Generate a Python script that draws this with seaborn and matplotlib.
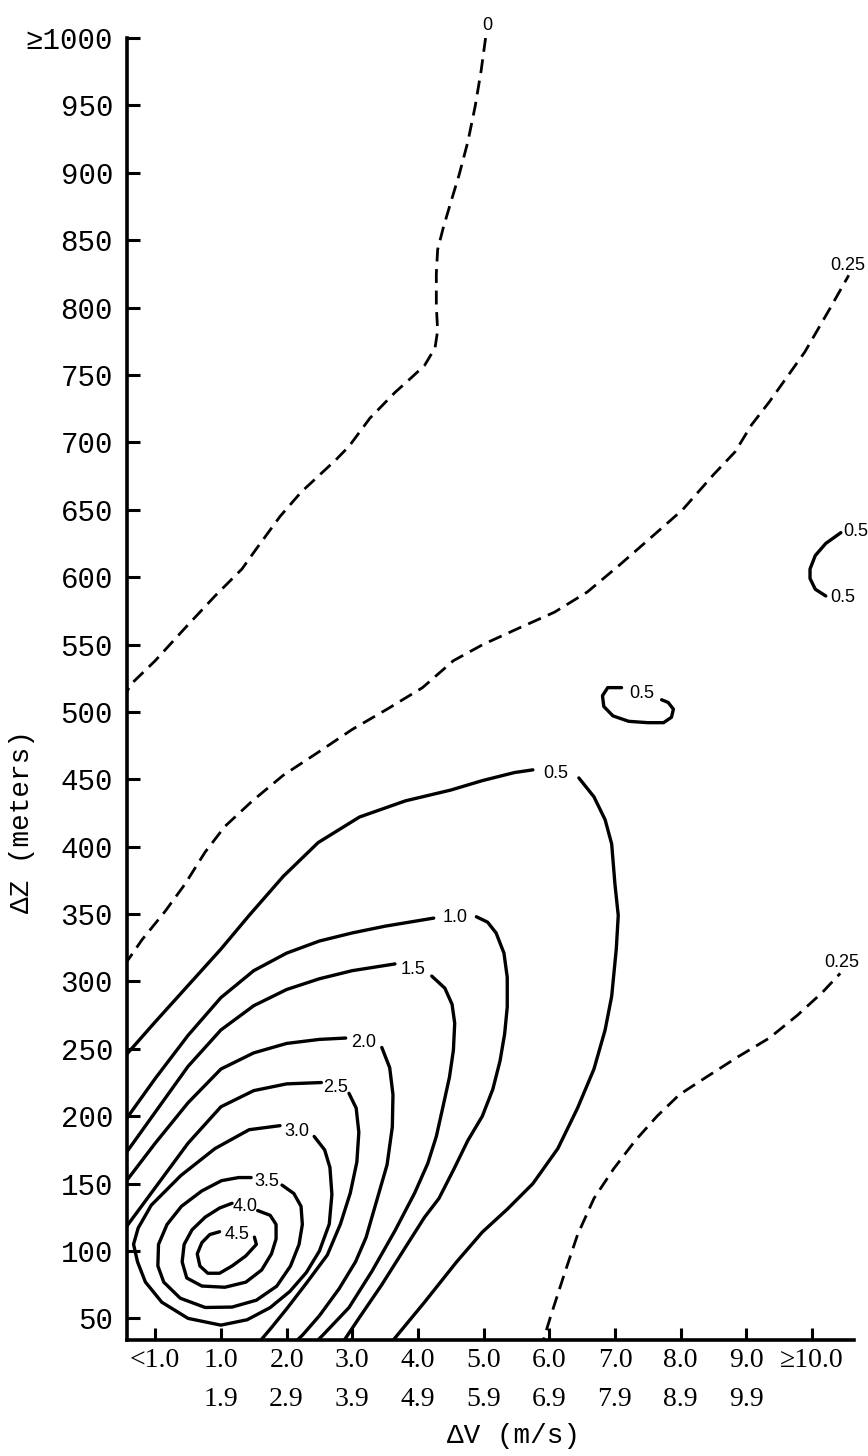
import matplotlib
matplotlib.use("Agg")
import matplotlib.pyplot as plt
import pandas as pd
import seaborn as sns

# ---------------- data ----------------
DV_BINS = ["<1.0", "1.0\n1.9", "2.0\n2.9", "3.0\n3.9", "4.0\n4.9", "5.0\n5.9",
           "6.0\n6.9", "7.0\n7.9", "8.0\n8.9", "9.0\n9.9", "\u226510.0"]
DZ_TICKS = list(range(50, 1001, 50))
DZ_LABELS = [str(v) for v in DZ_TICKS[:-1]] + ["\u22651000"]

# isolines: (ΔV bin index, ΔZ metres)
ISO_0 = [(5.03, 1000), (4.96, 975), (4.87, 949), (4.76, 923), (4.63, 899), (4.50, 878),
         (4.39, 860), (4.30, 843), (4.28, 825), (4.28, 801), (4.30, 783), (4.26, 770),
         (4.10, 757), (3.90, 748), (3.65, 737), (3.27, 718), (2.95, 697), (2.75, 687),
         (2.22, 663), (1.90, 645), (1.54, 621), (1.32, 606), (0.91, 586), (0.45, 562),
         (0.00, 538), (-0.36, 521), (-0.47, 512)]
ISO_025_UPPER = [(-0.47, 312), (-0.20, 331), (0.15, 352), (0.45, 372), (0.76, 396), (1.06, 415),
                 (1.48, 434), (1.95, 453), (2.48, 470), (3.00, 487), (3.53, 502), (4.07, 518),
                 (4.54, 538), (4.99, 550), (5.53, 562), (6.08, 574), (6.58, 589), (7.07, 609),
                 (7.54, 629), (8.03, 650), (8.50, 676), (8.83, 693), (9.08, 713), (9.35, 730),
                 (9.89, 767), (10.27, 799), (10.56, 824)]
ISO_025_LOWER = [(5.86, 26), (6.03, 53), (6.23, 83), (6.43, 112), (6.68, 139), (6.98, 161),
                 (7.31, 182), (7.64, 200), (7.98, 216), (8.39, 229), (8.87, 244), (9.35, 258),
                 (9.78, 275), (10.16, 292), (10.43, 306)]

ISO_05_A = [(-0.47, 244), (0.00, 270), (0.50, 297), (1.00, 324), (1.43, 349), (1.95, 378),
            (2.48, 403), (3.11, 422), (3.81, 434), (4.50, 442), (4.98, 449), (5.47, 455), (5.75, 457)]
ISO_05_B = [(6.45, 451), (6.68, 437), (6.85, 420), (6.95, 402), (7.00, 372), (7.05, 349),
            (7.02, 324), (6.95, 289), (6.85, 264), (6.68, 235), (6.43, 206), (6.13, 176),
            (5.75, 150), (5.36, 131), (4.98, 114), (4.59, 92), (4.10, 62), (3.49, 26)]
ISO_05_ISLE_A = [(7.71, 509), (7.81, 507), (7.89, 502), (7.86, 496), (7.74, 492), (7.50, 492),
                 (7.21, 493), (6.97, 497), (6.83, 504), (6.81, 512), (6.89, 518), (7.10, 518)]
ISO_05_ISLE_B = [(10.44, 633), (10.21, 625), (10.05, 616), (9.97, 606), (9.97, 599),
                 (10.05, 591), (10.21, 586)]

ISO_10_A = [(-0.47, 196), (0.00, 228), (0.50, 260), (1.00, 288), (1.50, 308), (2.00, 321),
            (2.50, 330), (3.00, 336), (3.50, 341), (4.24, 347)]
ISO_10_B = [(4.89, 348), (5.06, 344), (5.19, 336), (5.31, 321), (5.36, 303), (5.36, 281),
            (5.32, 261), (5.25, 241), (5.14, 220), (4.98, 200), (4.76, 182), (4.55, 161),
            (4.32, 139), (4.10, 125), (3.80, 102), (3.45, 75), (3.10, 50), (2.77, 26)]

ISO_15_A = [(-0.47, 171), (0.00, 203), (0.50, 237), (1.00, 264), (1.50, 282), (2.00, 294),
            (2.50, 302), (3.00, 308), (3.65, 313)]
ISO_15_B = [(4.21, 304), (4.41, 295), (4.52, 283), (4.56, 269), (4.54, 249), (4.48, 229),
            (4.39, 209), (4.28, 185), (4.15, 165), (3.95, 143), (3.65, 115), (3.30, 85),
            (2.95, 58), (2.60, 40), (2.32, 26)]

ISO_20_A = [(-0.47, 150), (0.00, 180), (0.50, 210), (1.00, 235), (1.50, 247), (2.00, 254),
            (2.50, 257), (2.90, 258)]
ISO_20_B = [(3.45, 251), (3.57, 236), (3.62, 216), (3.61, 192), (3.53, 164), (3.37, 137),
            (3.21, 110), (3.05, 92), (2.80, 72), (2.50, 52), (2.25, 38), (2.00, 26)]

ISO_25_A = [(-0.47, 116), (0.00, 147), (0.50, 180), (1.00, 207), (1.50, 219), (2.00, 224), (2.53, 225)]
ISO_25_B = [(2.95, 217), (3.06, 206), (3.10, 188), (3.07, 166), (2.97, 143), (2.82, 120),
            (2.62, 97), (2.30, 76), (2.00, 57), (1.75, 42), (1.47, 26)]

ISO_30_LOOP = [(2.42, 185), (2.58, 175), (2.66, 162), (2.69, 142), (2.65, 120), (2.50, 100),
               (2.30, 84), (2.05, 70), (1.75, 58), (1.40, 49), (1.00, 45), (0.50, 50),
               (0.10, 62), (-0.15, 77), (-0.27, 92), (-0.33, 105), (-0.26, 117), (-0.06, 134),
               (0.39, 156), (0.91, 176), (1.43, 190), (1.90, 193)]
ISO_35_LOOP = [(1.93, 148.9), (2.11, 142.7), (2.22, 133.2), (2.24, 119.7), (2.19, 104.9),
               (2.06, 88.9), (1.85, 73.9), (1.54, 63.5), (1.17, 58.4), (0.76, 58.1), (0.38, 65),
               (0.13, 76.9), (0.04, 88.9), (0.05, 104.9), (0.18, 119.7), (0.40, 133.2),
               (0.71, 144.6), (1.01, 152.2), (1.27, 154.5), (1.46, 154.5)]
ISO_40_LOOP = [(1.56, 130), (1.75, 126.5), (1.84, 119.7), (1.84, 108.9), (1.77, 97.9),
               (1.62, 85.9), (1.38, 76.9), (1.06, 73.1), (0.71, 74), (0.48, 80), (0.41, 91.9),
               (0.44, 104.9), (0.56, 115.7), (0.76, 125.1), (0.98, 131.9), (1.17, 135.4)]
ISO_45_LOOP = [(1.51, 110.3), (1.54, 104.9), (1.38, 96.4), (1.17, 88.9), (0.98, 83.5),
               (0.80, 83.5), (0.68, 88.9), (0.64, 97.9), (0.71, 106.2), (0.83, 112.2), (0.98, 114.3)]

# ---------------- style ----------------
sns.set_style("ticks")
plt.rcParams["font.family"] = ["Liberation Sans", "DejaVu Sans"]
plt.rcParams["lines.scale_dashes"] = False
for key in ("text.color", "axes.labelcolor", "xtick.color", "ytick.color", "axes.edgecolor"):
    plt.rcParams[key] = "black"

MONO = ["Liberation Mono", "DejaVu Sans Mono"]
SERIF = ["Liberation Serif", "DejaVu Serif"]
LBL = ["Liberation Sans", "DejaVu Sans"]

fig = plt.figure(figsize=(8.68, 14.56), dpi=100)
ax = fig.add_axes([0.1463, 0.0797, 0.8376, 0.8942])

SOLID = dict(color="black", linewidth=2.4, solid_capstyle="round", solid_joinstyle="round")
DASH = dict(color="black", linewidth=2.0, linestyle=(0, (10, 5.5)), dash_capstyle="butt")


def draw(pts, style):
    df = pd.DataFrame(pts, columns=["dv", "dz"])
    sns.lineplot(data=df, x="dv", y="dz", sort=False, estimator=None, ax=ax, **style)


def gap_label(text, seg_a, seg_b, size=13):
    xa, ya = seg_a[-1]
    xb, yb = seg_b[0]
    ax.text((xa + xb) / 2, (ya + yb) / 2, text, ha="center", va="center",
            fontsize=size, family=LBL, color="black")


def end_label(text, pts, idx, dx, dy, ha="center", va="bottom", size=13):
    ax.annotate(text, xy=pts[idx], xytext=(dx, dy), textcoords="offset points",
                ha=ha, va=va, fontsize=size, family=LBL, color="black",
                annotation_clip=False)


# dashed isolines
for pts in (ISO_0, ISO_025_UPPER, ISO_025_LOWER):
    draw(pts, DASH)
end_label("0", ISO_0, 0, 1, 3)
end_label("0.25", ISO_025_UPPER, -1, -1, 1)
end_label("0.25", ISO_025_LOWER, -1, 1, 2)

# solid open isolines (two segments around the label)
for text, a, b in (("0.5", ISO_05_A, ISO_05_B), ("1.0", ISO_10_A, ISO_10_B),
                   ("1.5", ISO_15_A, ISO_15_B), ("2.0", ISO_20_A, ISO_20_B),
                   ("2.5", ISO_25_A, ISO_25_B)):
    draw(a, SOLID)
    draw(b, SOLID)
    gap_label(text, a, b)

# closed loops (gap at the label)
for text, loop in (("3.0", ISO_30_LOOP), ("3.5", ISO_35_LOOP), ("4.0", ISO_40_LOOP),
                   ("4.5", ISO_45_LOOP), ("0.5", ISO_05_ISLE_A)):
    draw(loop, SOLID)
    gap_label(text, loop, loop)

draw(ISO_05_ISLE_B, SOLID)
end_label("0.5", ISO_05_ISLE_B, 0, 2, 1, ha="left", va="center")
end_label("0.5", ISO_05_ISLE_B, -1, 3, -1, ha="left", va="center")

# ---------------- axes ----------------
ax.set_xlim(-0.43, 10.64)
ax.set_ylim(34, 1000)
ax.set_xticks(range(len(DV_BINS)))
ax.set_xticklabels(DV_BINS, family=SERIF, fontsize=20, linespacing=1.7)
ax.set_yticks(DZ_TICKS)
ax.set_yticklabels(DZ_LABELS, family=MONO, fontsize=21)
ax.tick_params(axis="both", direction="in", length=9, width=2.2, color="black",
               labelcolor="black")
ax.tick_params(axis="y", pad=10)
ax.tick_params(axis="x", pad=6)

sns.despine(ax=ax)
for side in ("left", "bottom"):
    ax.spines[side].set_linewidth(2.6)
    ax.spines[side].set_color("black")

ax.set_xlabel("\u0394V (m/s)", family=MONO, fontsize=20, color="black")
ax.set_ylabel("\u0394Z (meters)", family=MONO, fontsize=20, color="black")
ax.xaxis.label.set_va("center")
ax.yaxis.label.set_va("center")
ax.xaxis.set_label_coords(0.531, -0.0737)
ax.yaxis.set_label_coords(-0.1444, 0.398)

fig.savefig("out.png", dpi=100, facecolor="white")
